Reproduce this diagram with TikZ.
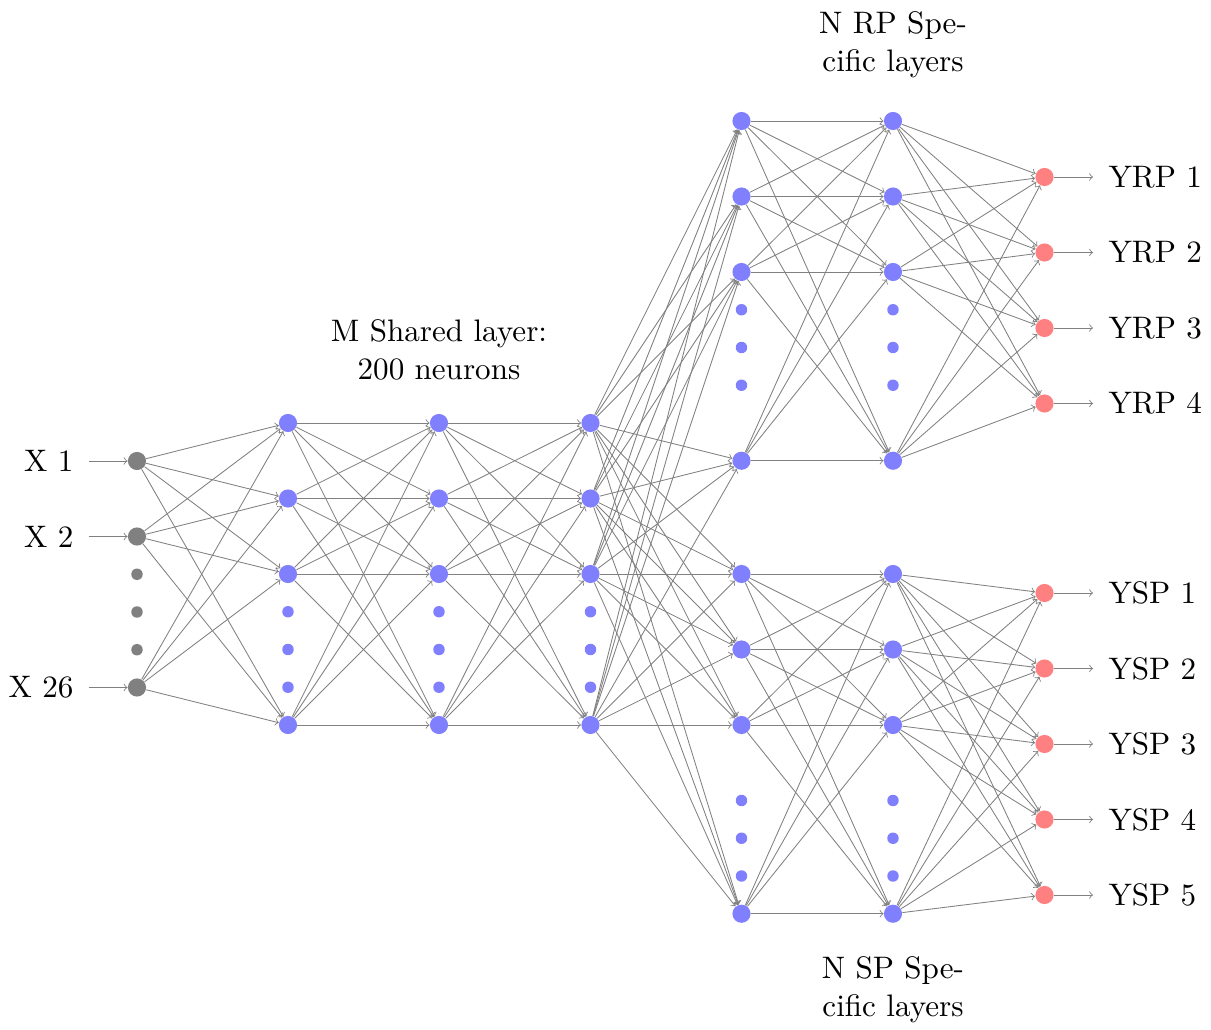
\documentclass[tikz,border=0pt]{standalone}
\begin{document}
\begin{tikzpicture}[x=0.016556cm, y=-0.016556cm]
\tikzset{
  edge/.style={->, draw=black!50, thin},
  neuron/.style={circle, minimum size=0.3cm, inner sep=0pt},
  inneuron/.style={neuron, fill=black!50},
  hid/.style={neuron, fill=blue!50},
  outn/.style={neuron, fill=red!50},
  ghost/.style={circle, minimum size=0.19cm, inner sep=0pt},
  lab/.style={font=\fontsize{10}{12.1}\selectfont, scale=1.465},
  sidelab/.style={lab, inner sep=4.8pt},
}
\useasboundingbox (0,0) rectangle (1211,1030);

% input layer
\foreach \n/\y in {1/461,2/536.5,3/687.5}
  \node[inneuron] (I-\n) at (137,\y) {};
\foreach \i/\y in {1/574.25,2/612,3/649.75}
  \node[ghost, fill=black!50] (I-d\i) at (137,\y) {};

% shared layers
\foreach \L/\x in {S1/288,S2/439,S3/590.5}{
  \foreach \n/\y in {1/423,2/498.5,3/574,4/725}
    \node[hid] (\L-\n) at (\x,\y) {};
  \foreach \i/\y in {1/611.75,2/649.5,3/687.25}
    \node[ghost, fill=blue!50] (\L-d\i) at (\x,\y) {};
}

% RP specific layers
\foreach \L/\x in {R1/741.5,R2/893}{
  \foreach \n/\y in {1/121,2/196.5,3/272,4/460.75}
    \node[hid] (\L-\n) at (\x,\y) {};
  \foreach \i/\y in {1/309.75,2/347.5,3/385.25}
    \node[ghost, fill=blue!50] (\L-d\i) at (\x,\y) {};
}

% SP specific layers
\foreach \L/\x in {P1/741.5,P2/893}{
  \foreach \n/\y in {1/574,2/649.5,3/725,4/913.75}
    \node[hid] (\L-\n) at (\x,\y) {};
  \foreach \i/\y in {1/800.5,2/838.25,3/876}
    \node[ghost, fill=blue!50] (\L-d\i) at (\x,\y) {};
}

% output layers
\foreach \n/\y in {1/177,2/252.5,3/328,4/403.5}
  \node[outn] (RO-\n) at (1044.5,\y) {};
\foreach \n/\y in {1/593,2/668.5,3/744,4/819.5,5/895}
  \node[outn] (PO-\n) at (1044.5,\y) {};

% connections
\foreach \a in {1,2,3}
  \foreach \b in {1,...,4}
    \draw[edge] (I-\a) -- (S1-\b);
\foreach \a in {1,...,4}
  \foreach \b in {1,...,4}{
    \draw[edge] (S1-\a) -- (S2-\b);
    \draw[edge] (S2-\a) -- (S3-\b);
    \draw[edge] (S3-\a) -- (R1-\b);
    \draw[edge] (S3-\a) -- (P1-\b);
    \draw[edge] (R1-\a) -- (R2-\b);
    \draw[edge] (R2-\a) -- (RO-\b);
    \draw[edge] (P1-\a) -- (P2-\b);
  }
\foreach \a in {1,...,4}
  \foreach \b in {1,...,5}
    \draw[edge] (P2-\a) -- (PO-\b);

% input labels
\foreach \n/\y/\t in {1/461/X 1,2/536.5/X 2,3/687.5/X 26}{
  \node[sidelab, anchor=east] (XL-\n) at (89,\y) {\t};
  \draw[edge] (XL-\n) -- (I-\n);
}
% output labels
\foreach \n/\y/\t in {1/177/YRP 1,2/252.5/YRP 2,3/328/YRP 3,4/403.5/YRP 4}{
  \node[sidelab, anchor=west] (YR-\n) at (1093,\y) {\t};
  \draw[edge] (RO-\n) -- (YR-\n);
}
\foreach \n/\y/\t in {1/593/YSP 1,2/668.5/YSP 2,3/744/YSP 3,4/819.5/YSP 4,5/895/YSP 5}{
  \node[sidelab, anchor=west] (YS-\n) at (1093,\y) {\t};
  \draw[edge] (PO-\n) -- (YS-\n);
}

% titles
\node[lab, align=center] (tshared) at (439,350) {M Shared layer:\\200 neurons};
\node[lab, align=center] (trp) at (893,45) {N RP Spe-\\cific layers};
\node[lab, align=center] (tsp) at (893,990) {N SP Spe-\\cific layers};
\end{tikzpicture}
\end{document}
